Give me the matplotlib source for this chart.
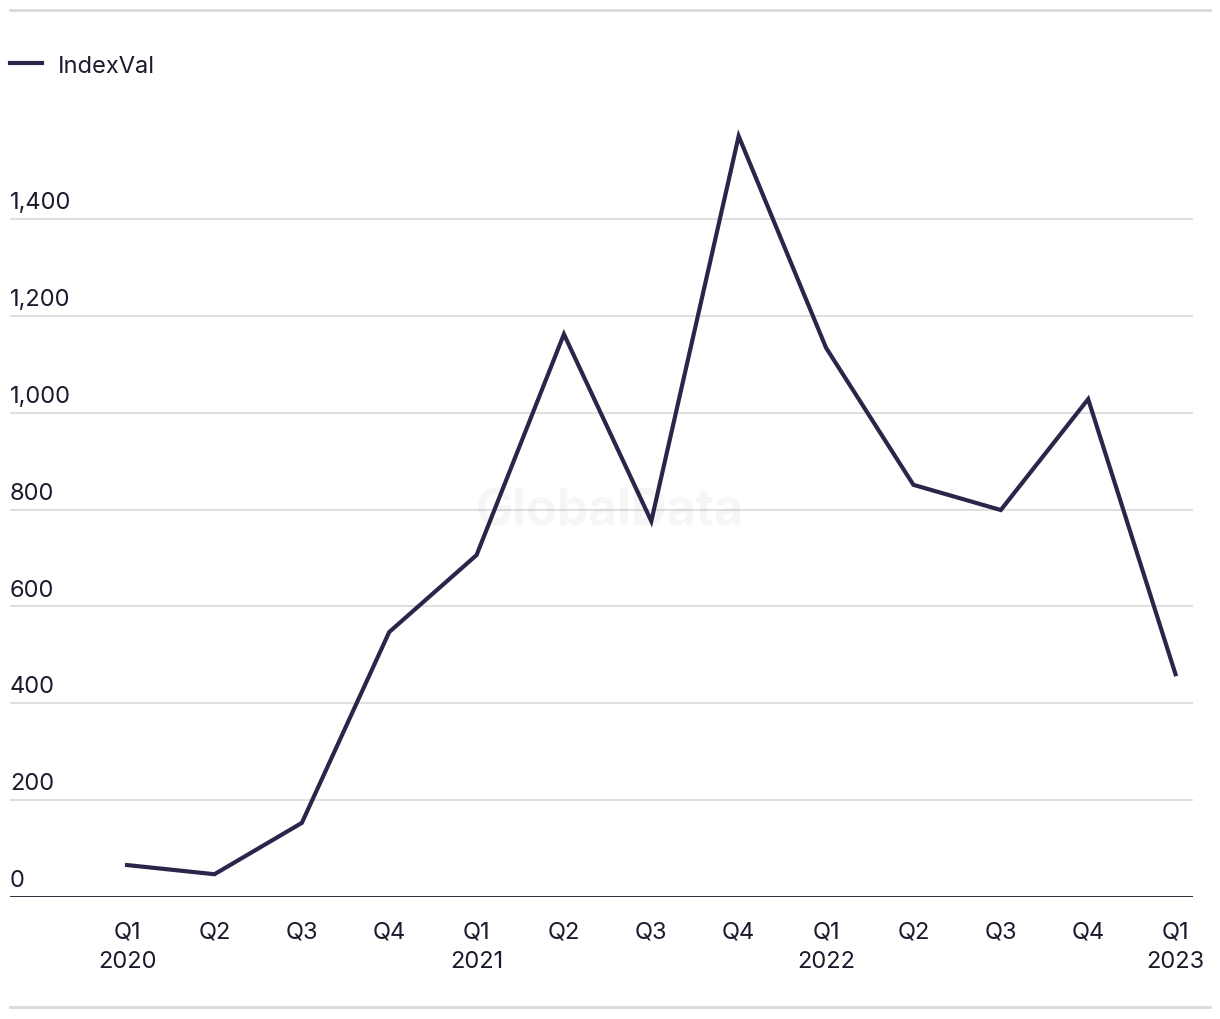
import matplotlib.pyplot as plt
from matplotlib.lines import Line2D

# quarterly index values
quarters = ["Q1\n2020", "Q2", "Q3", "Q4", "Q1\n2021", "Q2", "Q3", "Q4",
            "Q1\n2022", "Q2", "Q3", "Q4", "Q1\n2023"]
index_val = [66, 47, 153, 547, 706, 1162, 776, 1571, 1134, 851, 799, 1028, 460]
y_ticks = [0, 200, 400, 600, 800, 1000, 1200, 1400]

line_color = "#28264a"
text_color = "#1c1b2e"
grid_color = "#d9d9d9"

plt.rcParams["font.family"] = ["Inter", "DejaVu Sans"]

fig = plt.figure(figsize=(12.2, 10.2), dpi=100)
W, H = 1220, 1020
ax = fig.add_axes([10 / W, (H - 898) / H, (1193 - 10) / W, (898 - 110) / H])

x = list(range(len(index_val)))
ax.plot(x, index_val, color=line_color, linewidth=3, solid_joinstyle="miter", zorder=3)

ax.set_xlim(-1.34, 12.2)
ax.set_ylim(0, 1627)

# gridlines + y labels sitting on top of them
for v in y_ticks:
    if v > 0:
        ax.axhline(v, color=grid_color, linewidth=1.2, zorder=1)
    ax.text(-1.34, v + 12, f"{v:,}", fontsize=17, color=text_color,
            ha="left", va="bottom")
ax.axhline(0, color=text_color, linewidth=2, zorder=2)

ax.set_yticks([])
ax.set_xticks(x)
ax.set_xticklabels(quarters, fontsize=17, color=text_color, linespacing=1.45)
ax.tick_params(axis="x", length=0, pad=17)
for s in ax.spines.values():
    s.set_visible(False)

# watermark
ax.text(0.5, 0.498, "GlobalData", transform=fig.transFigure, fontsize=36,
        fontweight="bold", color="#000000", alpha=0.035, ha="center", va="center")

# top / bottom rules
fig.add_artist(Line2D([10 / W, 1210 / W], [1 - 11 / H, 1 - 11 / H],
                      color=grid_color, linewidth=2))
fig.add_artist(Line2D([10 / W, 1210 / W], [1 - 1008 / H, 1 - 1008 / H],
                      color=grid_color, linewidth=2))

# legend
fig.add_artist(Line2D([10 / W, 42 / W], [1 - 64 / H, 1 - 64 / H],
                      color=line_color, linewidth=3))
fig.text(58 / W, 1 - 67 / H, "IndexVal", fontsize=17, color=text_color,
         ha="left", va="center")

fig.savefig("out.png", dpi=100)
